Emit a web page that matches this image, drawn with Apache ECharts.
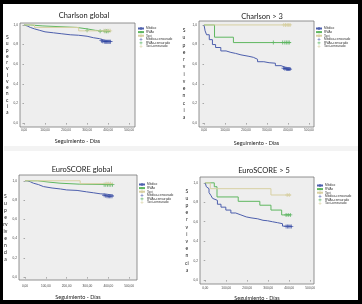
<!DOCTYPE html>
<html>
<head>
<meta charset="utf-8">
<script src="https://cdn.jsdelivr.net/npm/echarts@6/dist/echarts.min.js"></script>
<style>
html,body{margin:0;padding:0;background:#fff;}
#main{width:362px;height:304px;}
</style>
</head>
<body>
<div id="main"></div>
<script>
var chart=echarts.init(document.getElementById("main"));

// textos
var panelTitles=['Charlson global','Charlson > 3','EuroSCORE global','EuroSCORE > 5'];
var groups=['Médico','RVAo','Tavi'];
var xTicks=[0,100,200,300,400,500];
var yTicks=[0,0.2,0.4,0.6,0.8,1];
var yNames=[
	['S','u','p','e','r','v','i','v','e','n','c','i','a'],
	['S','u','p','e','r','v','i','v','e','n','c','i','a'],
	['S','u','p','e','rv','iv','e','n','ci','a'],
	['S','u','p','e','r','v','i','v','e','n','ci','a']
];

// Charlson global
var cg_medico=[[0,1],[5,0.99],[15,0.975],[30,0.96],[50,0.945],[75,0.93],[100,0.92],[140,0.91],[180,0.9],[220,0.895],[260,0.885],[300,0.87],[330,0.86],[360,0.845],[380,0.835],[410,0.83]];
var cg_rvao=[[0,1],[30,0.99],[90,0.975],[250,0.96],[300,0.945],[340,0.935],[410,0.935]];
var cg_tavi=[[0,1],[50,0.975],[260,0.94],[410,0.94]];
var cg_medico_c=[[368,0.84],[374,0.835],[380,0.835],[384,0.83],[388,0.83],[392,0.83],[396,0.83],[400,0.83],[404,0.83],[408,0.83],[412,0.83]];
var cg_rvao_c=[[300,0.945],[362,0.935],[385,0.935],[392,0.935],[400,0.935]];
var cg_tavi_c=[[380,0.94],[388,0.94],[396,0.94],[404,0.94],[410,0.94]];

// Charlson > 3
var c3_medico=[[0,1],[5,0.94],[12,0.9],[25,0.85],[40,0.8],[55,0.77],[80,0.735],[105,0.72],[128,0.71],[150,0.695],[176,0.68],[214,0.67],[235,0.65],[255,0.625],[285,0.615],[310,0.61],[340,0.585],[367,0.565],[390,0.555],[414,0.55]];
var c3_rvao=[[0,1],[50,0.875],[140,0.82],[414,0.82]];
var c3_tavi=[[0,1],[414,1]];
var c3_medico_c=[[378,0.56],[384,0.555],[390,0.555],[394,0.55],[398,0.55],[402,0.55],[406,0.55],[410,0.55]];
var c3_rvao_c=[[330,0.82],[375,0.82],[385,0.82],[392,0.82],[400,0.82],[406,0.82]];
var c3_tavi_c=[[380,1],[388,1],[396,1],[404,1],[410,1]];

// EuroSCORE global
var eg_medico=[[0,1],[10,0.99],[25,0.975],[40,0.96],[65,0.94],[88,0.925],[130,0.915],[170,0.905],[200,0.9],[250,0.885],[296,0.875],[330,0.865],[361,0.86],[395,0.85],[423,0.84]];
var eg_rvao=[[0,1],[60,0.985],[120,0.975],[168,0.965],[260,0.96],[423,0.96]];
var eg_tavi=[[0,1],[265,0.97],[423,0.97]];
var eg_medico_c=[[380,0.85],[388,0.845],[394,0.84],[400,0.84],[406,0.84],[412,0.84],[418,0.84]];
var eg_rvao_c=[[380,0.96],[388,0.96],[396,0.96],[404,0.96],[412,0.96],[420,0.96]];
var eg_tavi_c=[[390,0.97],[400,0.97],[410,0.97]];

// EuroSCORE > 5
var e5_medico=[[0,1],[5,0.96],[11,0.94],[18,0.9],[27,0.87],[35,0.84],[43,0.82],[58,0.78],[75,0.75],[98,0.72],[122,0.69],[145,0.67],[170,0.65],[195,0.64],[218,0.63],[250,0.615],[275,0.61],[297,0.6],[320,0.59],[345,0.58],[368,0.555],[408,0.55]];
var e5_rvao=[[0,1],[43,0.96],[56,0.855],[157,0.81],[260,0.77],[313,0.72],[364,0.67],[408,0.67]];
var e5_tavi=[[0,1],[24,0.94],[313,0.875],[408,0.875]];
var e5_medico_c=[[385,0.55],[392,0.55],[398,0.55],[404,0.55],[410,0.55]];
var e5_rvao_c=[[385,0.67],[395,0.67],[405,0.67]];
var e5_tavi_c=[[390,0.875],[400,0.875]];

var lines=[[cg_medico,cg_rvao,cg_tavi],[c3_medico,c3_rvao,c3_tavi],[eg_medico,eg_rvao,eg_tavi],[e5_medico,e5_rvao,e5_tavi]];
var censored=[[cg_medico_c,cg_rvao_c,cg_tavi_c],[c3_medico_c,c3_rvao_c,c3_tavi_c],[eg_medico_c,eg_rvao_c,eg_tavi_c],[e5_medico_c,e5_rvao_c,e5_tavi_c]];

var lineColors=['#4d5fad','#5fb760','#d8d0a2'];
var markColors=['#2e43a0','#3fa848','#d2c994'];
var plus='path://M4,0 L6,0 L6,4 L10,4 L10,6 L6,6 L6,10 L4,10 L4,6 L0,6 L0,4 L4,4 Z';

// posición de cada panel
var grids=[
	{left:20,top:23,width:115,height:104},
	{left:199,top:21,width:115,height:106},
	{left:19,top:175,width:118,height:105},
	{left:200,top:177,width:114,height:107}
];
var xRange=[[-19,528],[-24,524],[-29,538],[-25,518]];
var yRange=[[-0.04,1.02],[-0.04,1.04],[-0.03,1.06],[-0.04,1.06]];
var xLabelMargin=[2,2,5,3];
var xNameGap=[11,13,14,11];
var yNameGap=[12,15,13,12];
var yNameShift=[25,0,20,11];
var yLineHeight=[6.25,7.25,7,7.2];
var titlePos=[[79,7],[257,8],[77,161],[259,162]];
var legendPos=[[137,27],[315,27],[138,183],[316,184]];

var fmtX=function(v){return v.toFixed(2).replace('.',',');};
var fmtY=function(v){return v.toFixed(1).replace('.',',');};

var option={
	animation:false,
	backgroundColor:'#ffffff',
	title:[],
	legend:[],
	grid:[],
	xAxis:[],
	yAxis:[],
	series:[],
	graphic:[
		{type:'rect',shape:{x:4,y:146,width:354,height:5},style:{fill:'#f3f3f3'},z:-1},
		{type:'rect',shape:{x:0,y:0,width:362,height:4},style:{fill:'#000'},z:100},
		{type:'rect',shape:{x:0,y:300,width:362,height:4},style:{fill:'#000'},z:100},
		{type:'rect',shape:{x:0,y:0,width:3,height:304},style:{fill:'#000'},z:100},
		{type:'rect',shape:{x:358,y:0,width:4,height:304},style:{fill:'#000'},z:100}
	]
};

var legendNames=[];
for(var g=0;g<groups.length;g++) legendNames.push(groups[g]);
for(var g=0;g<groups.length;g++) legendNames.push(groups[g]+'-censurado');

for(var p=0;p<4;p++){
	option.title.push({
		text:panelTitles[p],
		left:titlePos[p][0],
		top:titlePos[p][1],
		textAlign:'center',
		textStyle:{fontFamily:'Lato',fontSize:7.5,fontWeight:'normal',color:'#222'}
	});
	option.legend.push({
		orient:'vertical',
		left:legendPos[p][0],
		top:legendPos[p][1],
		padding:0,
		itemGap:0.6,
		itemWidth:6,
		itemHeight:3,
		data:legendNames,
		textStyle:{fontFamily:'Liberation Sans',fontSize:3.2,color:'#333',padding:[0,0,0,-3]}
	});
	var gr=grids[p];
	option.grid.push({
		left:gr.left,top:gr.top,width:gr.width,height:gr.height,
		show:true,backgroundColor:'#eeeeee',borderColor:'#777',borderWidth:0.8
	});
	option.xAxis.push({
		type:'value',gridIndex:p,min:xRange[p][0],max:xRange[p][1],
		name:'Seguimiento - Días',nameLocation:'middle',nameGap:xNameGap[p],
		nameTextStyle:{fontFamily:'Lato',fontSize:5.5,color:'#222'},
		axisLine:{show:false},
		splitLine:{show:false},
		axisTick:{show:true,length:1.5,customValues:xTicks,lineStyle:{color:'#777',width:0.6}},
		axisLabel:{customValues:xTicks,formatter:fmtX,fontFamily:'Liberation Sans',fontSize:3.2,color:'#444',margin:xLabelMargin[p]}
	});
	option.yAxis.push({
		type:'value',gridIndex:p,min:yRange[p][0],max:yRange[p][1],
		name:yNames[p].join('\n'),nameLocation:'middle',nameRotate:0,nameGap:yNameGap[p],
		nameTextStyle:{fontFamily:'Lato',fontSize:5,color:'#222',align:'center',lineHeight:yLineHeight[p],padding:[0,0,yNameShift[p],0]},
		axisLine:{show:false},
		splitLine:{show:false},
		axisTick:{show:true,length:1.5,customValues:yTicks,lineStyle:{color:'#777',width:0.6}},
		axisLabel:{customValues:yTicks,formatter:fmtY,fontFamily:'Liberation Sans',fontSize:3.2,color:'#444',margin:2}
	});
	for(var g=0;g<3;g++){
		option.series.push({
			name:groups[g],type:'line',xAxisIndex:p,yAxisIndex:p,
			step:'end',symbol:'none',data:lines[p][g],
			lineStyle:{color:lineColors[g],width:1},itemStyle:{color:lineColors[g]}
		});
	}
	for(var g=0;g<3;g++){
		option.series.push({
			name:groups[g]+'-censurado',type:'scatter',xAxisIndex:p,yAxisIndex:p,
			symbol:plus,symbolSize:4,data:censored[p][g],
			itemStyle:{color:markColors[g]}
		});
	}
}

chart.setOption(option,true);
window.onresize=chart.resize;
</script>
</body>
</html>
